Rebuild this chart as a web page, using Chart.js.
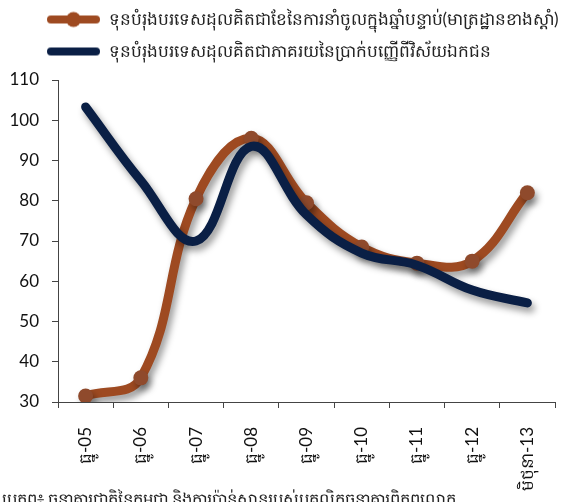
<!DOCTYPE html>
<html>
<head>
<meta charset="utf-8">
<script src="https://cdn.jsdelivr.net/npm/chart.js@4/dist/chart.umd.min.js"></script>
<style>
  html, body { margin: 0; padding: 0; background: #fff; overflow: hidden; width: 577px; height: 502px; }
  #wrap { position: absolute; left: 0; top: -4px; width: 600px; height: 500px; }
  #note { position: absolute; left: 2px; top: 489px; font: 16.5px Lato, "Noto Sans", sans-serif; color: #222; white-space: nowrap; }
</style>
</head>
<body>
<div id="wrap"><canvas id="chart" width="600" height="500"></canvas></div>
<div id="note">ប្រភព៖ ធនាគារជាតិនៃកម្ពុជា និងការប៉ាន់ស្មានរបស់បុគ្គលិកធនាគារពិភពលោក</div>
<script>
const categories = ["ធ្នូ-05", "ធ្នូ-06", "ធ្នូ-07", "ធ្នូ-08", "ធ្នូ-09", "ធ្នូ-10", "ធ្នូ-11", "ធ្នូ-12", "មិថុនា-13"];
const importMonths = [31.5, 36, 80.5, 95.5, 79.5, 68.5, 64.5, 65, 82];
const depositShare = [103.3, 85, 70, 93.5, 76.5, 67, 64, 57.8, 54.6];
const seriesLabels = [
  "ទុនបំរុងបរទេសដុលគិតជាខែនៃការនាំចូលក្នុងឆ្នាំបន្ទាប់(មាត្រដ្ឋានខាងស្តាំ)",
  "ទុនបំរុងបរទេសដុលគិតជាភាគរយនៃប្រាក់បញ្ញើពីវិស័យឯកជន"
];
const yTicks = { min: 30, max: 110, step: 10 };
const y2Ticks = { min: 0, max: 5, step: 1 };

const brown = "#9e4a21";
const navy = "#0a1f45";
const font = "Lato, 'Noto Sans', sans-serif";

function makeIcon(color, withDot) {
  const c = document.createElement("canvas");
  c.width = 85;
  c.height = 18;
  const g = c.getContext("2d");
  g.strokeStyle = color;
  g.lineWidth = 8;
  g.lineCap = "round";
  g.beginPath();
  g.moveTo(36, 9);
  g.lineTo(81, 9);
  g.stroke();
  if (withDot) {
    g.fillStyle = color;
    g.beginPath();
    g.arc(58.5, 9, 7.5, 0, Math.PI * 2);
    g.fill();
  }
  return c;
}
const icons = [makeIcon(brown, true), makeIcon(navy, false)];

const shadowPlugin = {
  id: "shadow",
  beforeDatasetDraw(chart) {
    const ctx = chart.ctx;
    ctx.save();
    ctx.shadowColor = "rgba(0,0,0,0.4)";
    ctx.shadowBlur = 7;
    ctx.shadowOffsetX = 3;
    ctx.shadowOffsetY = 5;
  },
  afterDatasetDraw(chart) {
    chart.ctx.restore();
  }
};

const legendSize = {
  id: "legendSize",
  beforeInit(chart) {
    const legend = chart.legend;
    const fit = legend.fit;
    legend.fit = function () {
      fit.call(this);
      this.height = 84;
    };
  }
};

new Chart(document.getElementById("chart"), {
  type: "line",
  data: {
    labels: categories,
    datasets: [
      {
        label: seriesLabels[0],
        data: importMonths,
        borderColor: brown,
        backgroundColor: "#8f4a2c",
        borderWidth: 9,
        tension: 0.4,
        pointRadius: 7.5,
        pointBorderWidth: 0,
        pointBackgroundColor: "#8f4a2c",
        order: 2
      },
      {
        label: seriesLabels[1],
        data: depositShare,
        borderColor: navy,
        backgroundColor: navy,
        borderWidth: 9,
        borderCapStyle: "round",
        tension: 0.4,
        pointRadius: 0,
        order: 1
      }
    ]
  },
  options: {
    responsive: false,
    animation: false,
    layout: { padding: 0 },
    plugins: {
      tooltip: { enabled: false },
      legend: {
        align: "start",
        labels: {
          usePointStyle: true,
          pointStyleWidth: 85,
          padding: 15,
          color: "#222",
          font: { family: font, size: 17 },
          generateLabels: (chart) => chart.data.datasets.map((ds, i) => ({
            text: ds.label,
            pointStyle: icons[i],
            fillStyle: ds.borderColor,
            strokeStyle: ds.borderColor,
            lineWidth: 0,
            hidden: false,
            datasetIndex: i,
            fontColor: "#222"
          }))
        }
      }
    },
    scales: {
      x: {
        offset: true,
        afterFit: (axis) => { axis.height = 94; },
        border: { color: "#444", width: 1 },
        grid: { offset: true, drawOnChartArea: false, tickLength: 6, color: "#444" },
        ticks: {
          minRotation: 90,
          maxRotation: 90,
          padding: 19,
          color: "#111",
          font: { family: font, size: 17 }
        }
      },
      y: {
        min: yTicks.min,
        max: yTicks.max,
        afterFit: (axis) => { axis.width = 58; },
        border: { color: "#444", width: 1 },
        grid: { drawOnChartArea: false, tickLength: 6, color: "#444" },
        ticks: {
          stepSize: yTicks.step,
          padding: 13,
          color: "#111",
          font: { family: font, size: 17 }
        }
      },
      y1: {
        position: "right",
        min: y2Ticks.min,
        max: y2Ticks.max,
        afterFit: (axis) => { axis.width = 45; },
        border: { display: false },
        grid: { display: false },
        ticks: {
          stepSize: y2Ticks.step,
          padding: 19,
          color: "#111",
          font: { family: font, size: 17 }
        }
      }
    }
  },
  plugins: [shadowPlugin, legendSize]
});
</script>
</body>
</html>
